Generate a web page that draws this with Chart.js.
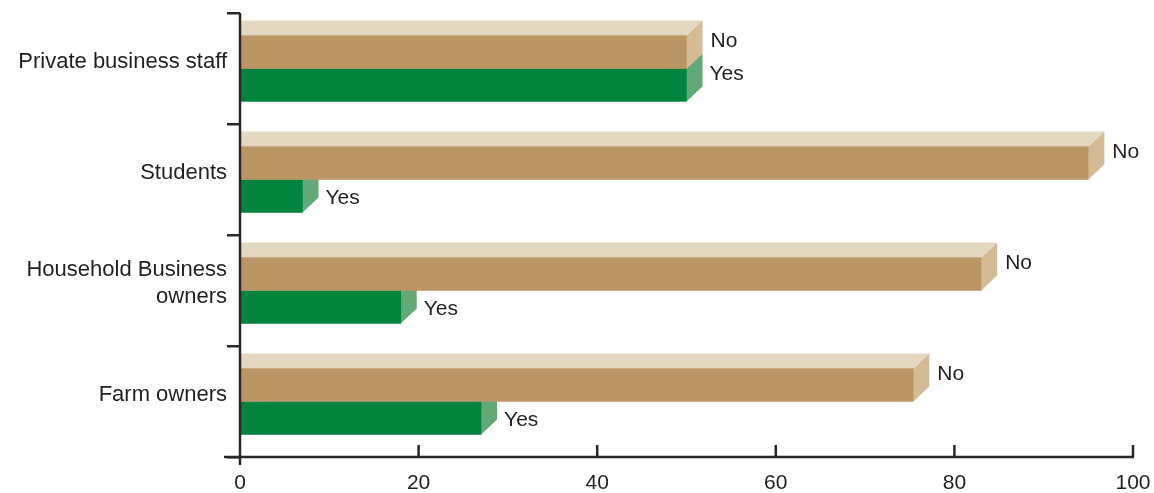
<!DOCTYPE html>
<html><head><meta charset="utf-8">
<script src="https://cdn.jsdelivr.net/npm/chart.js@4.4.1/dist/chart.umd.min.js"></script>
<style>html,body{margin:0;padding:0;background:#fff}#wrap{width:1154px;height:493px;position:relative}</style>
</head><body><div id="wrap"><canvas id="c"></canvas></div>
<script>
const categories = ['Private business staff', 'Students', ['Household Business', 'owners'], 'Farm owners'];
const seriesNames = ['No', 'Yes'];
const noValues = [50, 95, 83, 75.4];
const yesValues = [50, 7, 18, 27];
const xTickStep = 20;
const xMin = 0;
const xMax = 100;

const FONT = '"Liberation Sans", Arial, Helvetica, sans-serif';
const INK = '#231f20';
const AXIS = '#2a2728';
const COLORS = {
  noFront: '#bb9664', noSide: '#d5ba96', top: '#e4d7c1',
  yesFront: '#00833d', yesSide: '#63a977'
};
const DX = 16, DY = 15;

const bar3d = {
  id: 'bar3d',
  beforeDatasetsDraw(chart) {
    const ctx = chart.ctx;
    const noMeta = chart.getDatasetMeta(0), yesMeta = chart.getDatasetMeta(1);
    const poly = (pts, color) => {
      ctx.beginPath();
      ctx.moveTo(pts[0][0], pts[0][1]);
      for (let k = 1; k < pts.length; k++) ctx.lineTo(pts[k][0], pts[k][1]);
      ctx.closePath();
      ctx.fillStyle = color;
      ctx.fill();
    };
    ctx.save();
    for (let i = 0; i < categories.length; i++) {
      const y = yesMeta.data[i], n = noMeta.data[i];
      const yT = y.y - y.height / 2, yB = y.y + y.height / 2;
      poly([[y.x, yT], [y.x + DX, yT - DY], [y.x + DX, yB - DY], [y.x, yB]], COLORS.yesSide);
      const nT = n.y - n.height / 2, nB = n.y + n.height / 2;
      poly([[n.x, nT], [n.x + DX, nT - DY], [n.x + DX, nB - DY], [n.x, nB]], COLORS.noSide);
      poly([[n.base, nT], [n.x, nT], [n.x + DX, nT - DY], [n.base, nT - DY]], COLORS.top);
    }
    ctx.restore();
  },
  afterDraw(chart) {
    const ctx = chart.ctx;
    const area = chart.chartArea;
    const xs = chart.scales.x;
    const noMeta = chart.getDatasetMeta(0), yesMeta = chart.getDatasetMeta(1);
    ctx.save();
    ctx.font = '21px ' + FONT;
    ctx.fillStyle = INK;
    ctx.textAlign = 'left';
    ctx.textBaseline = 'middle';
    for (let i = 0; i < categories.length; i++) {
      const y = yesMeta.data[i], n = noMeta.data[i];
      ctx.fillText(seriesNames[0], n.x + DX + 8, n.y - 11);
      const close = Math.abs(y.x - n.x) < DX;
      ctx.fillText(seriesNames[1], y.x + DX + 7, close ? y.y - 11 : y.y + 2);
    }
    ctx.strokeStyle = AXIS;
    ctx.lineWidth = 2.5;
    ctx.beginPath();
    ctx.moveTo(area.left - 16, area.bottom);
    ctx.lineTo(area.right + 1, area.bottom);
    ctx.moveTo(area.left, area.top);
    ctx.lineTo(area.left, area.bottom + 8);
    xs.ticks.forEach(t => {
      const px = xs.getPixelForValue(t.value);
      ctx.moveTo(px, area.bottom);
      ctx.lineTo(px, area.bottom - 12);
    });
    ctx.stroke();
    ctx.restore();
  }
};

new Chart(document.getElementById('c'), {
  type: 'bar',
  data: {
    labels: categories,
    datasets: [
      { label: seriesNames[0], data: noValues, backgroundColor: COLORS.noFront, barThickness: 33 },
      { label: seriesNames[1], data: yesValues, backgroundColor: COLORS.yesFront, barThickness: 33 }
    ]
  },
  options: {
    indexAxis: 'y',
    responsive: true,
    maintainAspectRatio: false,
    animation: false,
    layout: { padding: { top: 13, right: 21, left: 0, bottom: 0 } },
    plugins: { legend: { display: false }, tooltip: { enabled: false } },
    scales: {
      x: {
        min: xMin, max: xMax,
        ticks: { stepSize: xTickStep, font: { family: FONT, size: 21 }, color: INK, padding: 14, maxRotation: 0 },
        grid: { display: false, drawTicks: false },
        border: { display: false },
        afterFit(s) { s.height = 36; s.paddingRight = 0; s.paddingLeft = 0; }
      },
      y: {
        ticks: { font: { family: FONT, size: 22, lineHeight: 1.2 }, color: INK, padding: 0, labelOffset: -7 },
        grid: { drawOnChartArea: false, tickLength: 13, color: AXIS, lineWidth: 2.5 },
        border: { display: false },
        afterFit(s) { s.width = 240; s.paddingTop = 0; s.paddingBottom = 0; }
      }
    }
  },
  plugins: [bar3d]
});
</script>
</body></html>
